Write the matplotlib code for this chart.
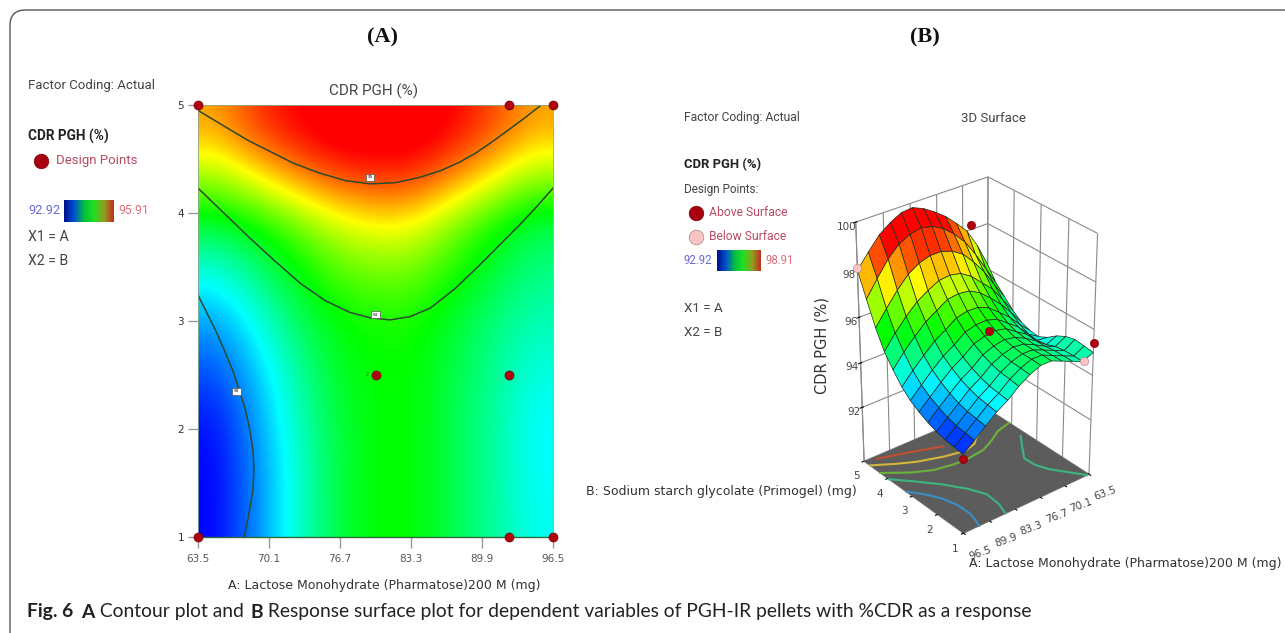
import matplotlib

matplotlib.use("Agg")

import matplotlib.pyplot as plt
import numpy as np
from matplotlib.colors import LinearSegmentedColormap, Normalize
from matplotlib.patches import FancyBboxPatch


W, H = 1285, 633
NARROW = ["Roboto", "Liberation Sans", "DejaVu Sans"]

FIELD_A = [63.5, 67.6, 71.75, 75.9, 80.0, 84.1, 88.25, 92.4, 96.5]
FIELD_B = [1.0, 1.5, 2.0, 2.5, 3.0, 3.5, 4.0, 4.5, 5.0]
FIELD_CDR = [
    [92.92, 93.34, 93.79, 94.21, 94.42, 94.42, 94.18, 93.97, 93.70],
    [92.92, 93.34, 93.79, 94.21, 94.42, 94.42, 94.18, 93.97, 93.67],
    [92.98, 93.40, 93.85, 94.24, 94.42, 94.42, 94.18, 93.97, 93.67],
    [93.16, 93.52, 93.94, 94.30, 94.42, 94.42, 94.21, 94.00, 93.76],
    [93.40, 93.73, 94.12, 94.39, 94.47, 94.47, 94.27, 94.06, 93.88],
    [93.73, 94.03, 94.36, 94.62, 94.74, 94.71, 94.47, 94.24, 94.03],
    [94.24, 94.42, 94.71, 95.01, 95.16, 95.13, 94.77, 94.45, 94.18],
    [94.89, 95.19, 95.49, 95.70, 95.79, 95.76, 95.52, 95.19, 94.86],
    [95.43, 95.76, 95.91, 96.06, 96.06, 96.06, 95.91, 95.70, 95.43],
]
LEVEL_HIGH_A = [63.5, 65.0, 66.5, 68.2, 70.0, 72.4, 74.8, 77.2, 79.5, 81.8, 84.1, 86.0, 87.8, 89.4, 91.0, 92.5, 94.0, 95.4]
LEVEL_HIGH_B = [4.95, 4.86, 4.77, 4.67, 4.58, 4.46, 4.37, 4.30, 4.27, 4.28, 4.33, 4.39, 4.47, 4.56, 4.67, 4.78, 4.89, 5.0]
LEVEL_MID_A = [63.5, 65.9, 68.3, 70.6, 73.0, 75.3, 77.6, 79.5, 81.35, 83.2, 85.1, 87.4, 89.7, 91.6, 93.4, 95.0, 96.5]
LEVEL_MID_B = [4.23, 4.00, 3.77, 3.56, 3.35, 3.19, 3.08, 3.03, 3.01, 3.04, 3.12, 3.30, 3.52, 3.71, 3.89, 4.06, 4.23]
LEVEL_LOW_A = [63.5, 64.3, 65.1, 65.9, 66.7, 67.3, 67.9, 68.3, 68.6, 68.7, 68.6, 68.4, 68.2, 67.8]
LEVEL_LOW_B = [3.24, 3.08, 2.92, 2.74, 2.55, 2.37, 2.18, 2.00, 1.81, 1.62, 1.43, 1.31, 1.20, 1.0]
POINTS_A = [63.5, 92.4, 96.5, 80.0, 92.4, 63.5, 92.4, 96.5]
POINTS_B = [5.0, 5.0, 5.0, 2.5, 2.5, 1.0, 1.0, 1.0]
A_TICKS = [63.5, 70.1, 76.7, 83.3, 89.9, 96.5]
B_TICKS = [1, 2, 3, 4, 5]

# panel B: surface heights, rows run B = 1 to 5, columns run A = 96.5 to 63.5
SURF_A = [96.5, 93.75, 91.0, 88.25, 85.5, 82.75, 80.0, 77.25, 74.5, 71.75, 69.0, 66.25, 63.5]
SURF_B = [1.0, 1.33, 1.67, 2.0, 2.33, 2.67, 3.0, 3.33, 3.67, 4.0, 4.33, 4.67, 5.0]
SURF_CDR = [
    [93.00, 93.40, 93.80, 94.20, 94.50, 94.90, 95.20, 95.40, 95.40, 95.20, 95.00, 94.80, 95.00],
    [93.05, 93.46, 93.86, 94.26, 94.56, 94.96, 95.24, 95.43, 95.42, 95.20, 95.00, 94.80, 95.05],
    [93.10, 93.51, 93.92, 94.32, 94.62, 95.01, 95.27, 95.42, 95.40, 95.20, 95.00, 94.80, 95.10],
    [93.20, 93.62, 94.03, 94.44, 94.74, 95.12, 95.35, 95.48, 95.42, 95.20, 94.95, 94.75, 95.00],
    [93.35, 93.79, 94.21, 94.61, 94.91, 95.29, 95.48, 95.57, 95.48, 95.25, 94.95, 94.60, 94.80],
    [93.55, 94.00, 94.44, 94.85, 95.15, 95.52, 95.67, 95.73, 95.62, 95.30, 95.00, 94.55, 94.50],
    [93.80, 94.28, 94.73, 95.14, 95.44, 95.80, 95.93, 95.95, 95.80, 95.45, 95.10, 94.60, 94.30],
    [94.15, 94.67, 95.13, 95.56, 95.86, 96.19, 96.30, 96.28, 96.08, 95.70, 95.30, 94.80, 94.35],
    [94.65, 95.22, 95.71, 96.15, 96.45, 96.75, 96.82, 96.76, 96.51, 96.10, 95.65, 95.10, 94.50],
    [95.20, 95.82, 96.35, 96.80, 97.10, 97.35, 97.40, 97.30, 97.00, 96.55, 96.10, 95.45, 94.80],
    [96.00, 96.65, 97.25, 97.75, 98.05, 98.20, 98.20, 98.05, 97.75, 97.25, 96.65, 95.90, 95.20],
    [97.00, 97.70, 98.35, 98.80, 99.05, 99.15, 99.05, 98.80, 98.40, 97.90, 97.20, 96.40, 95.60],
    [98.00, 98.60, 99.15, 99.50, 99.75, 99.80, 99.60, 99.30, 98.95, 98.50, 98.00, 97.20, 96.20],
]
Z_TICKS = [92, 94, 96, 98, 100]
Z_FLOOR = 89.5

# floor contours of panel B as (A, B) readings, with their colours
FLOOR_LINES = [
    ([93.9, 87.0, 80.2], [4.89, 4.60, 4.29], "#c2502f"),
    ([96.5, 92.0, 88.2, 82.5, 77.7, 74.5, 72.9, 70.0, 68.2], [4.75, 4.40, 4.15, 3.90, 3.77, 3.88, 4.06, 4.28, 4.48], "#d3b53c"),
    ([96.5, 91.5, 87.3, 82.5, 78.8, 74.5, 71.0, 67.5, 63.5], [4.31, 3.85, 3.58, 3.46, 3.45, 3.52, 3.72, 3.97, 4.10], "#6cb23a"),
    ([96.5, 92.5, 89.2, 86.2, 84.4, 84.7, 85.8], [3.95, 3.42, 2.94, 2.40, 1.92, 1.42, 1.0], "#3db581"),
    ([96.5, 94.0, 92.4, 91.4, 91.3, 91.8, 92.6], [3.26, 2.84, 2.47, 2.02, 1.58, 1.27, 1.0], "#3a90c4"),
    ([65.0, 67.8, 70.0, 69.8, 68.6, 66.2, 64.0], [3.42, 2.95, 2.56, 2.15, 1.79, 1.38, 1.0], "#3db581"),
]
ABOVE_A = [68.0, 80.0, 63.5, 96.5]
ABOVE_B = [5.0, 2.5, 1.0, 1.0]
ABOVE_CDR = [98.2, 96.0, 95.4, 92.8]
BELOW_A = [96.5, 66.0]
BELOW_B = [5.0, 1.0]
BELOW_CDR = [98.1, 94.8]

CMAP = LinearSegmentedColormap.from_list(
    "rsm", ["#0000ff", "#00ffff", "#00ff00", "#ffff00", "#ff0000"]
)
BAR_CMAP = LinearSegmentedColormap.from_list(
    "rsm_bar", ["#00108c", "#0050d0", "#00c040", "#20e020", "#90a020", "#c03020"]
)


def px_rect(left, top, right, bottom):
    """Turn a pixel box (origin top left) into a figure rectangle."""
    return [left / W, 1 - bottom / H, (right - left) / W, (bottom - top) / H]


def put(fig, x, y, text, size=10, family=None, color="#444444", **kwargs):
    """Place text at a pixel position."""
    kwargs.setdefault("va", "center")
    return fig.text(x / W, 1 - y / H, text, fontsize=size, family=family or NARROW,
                    color=color, **kwargs)


def legend_marker(fig, x, y, color, edge="#800000"):
    overlay = fig.add_axes([0, 0, 1, 1], facecolor="none")
    overlay.set_xlim(0, W)
    overlay.set_ylim(H, 0)
    overlay.axis("off")
    overlay.plot([x], [y], "o", ms=10.5, color=color, mec=edge, mew=0.5)


def color_bar(fig, left, top, right, bottom):
    bar = fig.add_axes(px_rect(left, top, right, bottom))
    bar.imshow(np.linspace(0, 1, 128).reshape(1, -1), cmap=BAR_CMAP, aspect="auto")
    bar.axis("off")


def draw_frame(fig):
    frame = FancyBboxPatch(
        (10 / W, -30 / H), 1320 / W, 653 / H,
        boxstyle="round,pad=0,rounding_size=0.012", transform=fig.transFigure,
        fc="none", ec="#555555", lw=1.0,
    )
    frame.set_mutation_aspect(W / H)
    fig.add_artist(frame)


def draw_contour_panel(fig):
    ax = fig.add_axes(px_rect(198, 105, 553, 537))
    ax.imshow(
        np.array(FIELD_CDR), origin="lower", aspect="auto", interpolation="bicubic",
        extent=(FIELD_A[0], FIELD_A[-1], FIELD_B[0], FIELD_B[-1]),
        cmap=CMAP, norm=Normalize(92.92, 95.91),
    )
    for line_a, line_b in [(LEVEL_HIGH_A, LEVEL_HIGH_B), (LEVEL_MID_A, LEVEL_MID_B),
                           (LEVEL_LOW_A, LEVEL_LOW_B)]:
        ax.plot(line_a, line_b, color="#2b4a30", lw=1.1)
    for x, y, label in [(79.5, 4.33, "95"), (80.0, 3.06, "94"), (67.1, 2.35, "93")]:
        ax.text(x, y, label, fontsize=3, ha="center", va="center",
                bbox=dict(fc="white", ec="#555555", lw=0.5, pad=1.2))
    ax.plot(POINTS_A, POINTS_B, "o", ms=6.5, color="#b00010", mec="#700000", mew=0.5,
            clip_on=False, zorder=5)
    ax.text(79.2, 2.5, "2", fontsize=3.5, color="#206020", ha="center", va="center")
    ax.set_xlim(FIELD_A[0], FIELD_A[-1])
    ax.set_ylim(FIELD_B[0], FIELD_B[-1])
    ax.set_xticks(A_TICKS)
    ax.set_yticks(B_TICKS)
    ax.tick_params(axis="x", length=8, width=1, color="#999999", labelsize=7.5,
                   labelcolor="#555555", pad=4)
    ax.tick_params(axis="y", length=7, width=1, color="#999999", labelsize=7.5,
                   labelcolor="#333333", pad=3)
    for side, spine in ax.spines.items():
        spine.set_color("#2f6b3a" if side == "bottom" else "#8aa88a")
        spine.set_linewidth(1.0 if side == "bottom" else 0.6)

    put(fig, 374, 91, "CDR PGH (%)", size=11, ha="center")
    put(fig, 384, 586, "A: Lactose Monohydrate (Pharmatose)200 M (mg)", size=9,
        family="DejaVu Sans", ha="center", color="#333333")
    put(fig, 28, 86, "Factor Coding: Actual", size=9.5)
    put(fig, 28, 136, "CDR PGH (%)", size=9.8, fontweight="bold", color="#222222")
    legend_marker(fig, 41, 161, "#a80010")
    put(fig, 56, 161, "Design Points", size=9.5, color="#b84a62")
    color_bar(fig, 64, 200, 113, 222)
    put(fig, 28, 211, "92.92", size=9.2, color="#6a6ad8")
    put(fig, 118, 211, "95.91", size=8.8, color="#d8707e")
    put(fig, 28, 237, "X1 = A", size=10.2)
    put(fig, 28, 261, "X2 = B", size=10.2)


def draw_surface_panel(fig):
    ax = fig.add_axes(px_rect(740, 138, 1200, 578), projection="3d", computed_zorder=False)
    ax.patch.set_alpha(0)
    ax.view_init(elev=30, azim=141)
    ax.set_proj_type("persp", focal_length=0.8)
    ax.set_box_aspect((1, 1, 1.67), zoom=0.8)

    bb, aa = np.meshgrid(SURF_B, SURF_A, indexing="ij")
    ax.plot_surface(
        np.array([[1.0, 1.0], [5.0, 5.0]]), np.array([[63.5, 96.5], [63.5, 96.5]]),
        np.full((2, 2), Z_FLOOR), color="#5c5c5c", shade=False, zorder=1,
    )
    for line_a, line_b, color in FLOOR_LINES:
        ax.plot(line_b, line_a, zs=Z_FLOOR, color=color, lw=1.5, zorder=2)
    ax.plot_surface(
        bb, aa, np.array(SURF_CDR), cmap=CMAP, norm=Normalize(92.92, 98.91),
        rstride=1, cstride=1, edgecolor="#1c2a1c", linewidth=0.5, shade=False, zorder=3,
    )
    ax.plot(ABOVE_B, ABOVE_A, ABOVE_CDR, "o", ms=6, color="#b00010", mec="#700000",
            mew=0.4, ls="none", zorder=5)
    ax.plot(BELOW_B, BELOW_A, BELOW_CDR, "o", ms=6, color="#f8c4c4", mec="#b08080",
            mew=0.4, ls="none", zorder=5)

    ax.set_xlim(1, 5, view_margin=0)
    ax.set_ylim(63.5, 96.5, view_margin=0)
    ax.set_zlim(Z_FLOOR, 100, view_margin=0)
    ax.set_xticks(B_TICKS)
    ax.set_yticks(A_TICKS)
    ax.set_zticks(Z_TICKS)
    ax.tick_params(labelsize=7.5, labelcolor="#444444", pad=-2)
    ax.tick_params(axis="y", labelrotation=20)
    for label in ax.yaxis.get_ticklabels():
        label.set_ha("left")
    for label in ax.xaxis.get_ticklabels():
        label.set_ha("right")
    ax.zaxis.set_ticks_position("upper")
    for axis in (ax.xaxis, ax.yaxis, ax.zaxis):
        axis.set_pane_color((1, 1, 1, 0))
        axis.pane.set_edgecolor("#8a8a8a")
        axis._axinfo["grid"]["color"] = "#8a8a8a"
        axis._axinfo["grid"]["linewidth"] = 0.8
        axis.line.set_color("#8a8a8a")

    put(fig, 925, 37, "(B)", size=16, family="Liberation Serif", fontweight="bold",
        color="#111111", ha="center")
    put(fig, 993, 118, "3D Surface", size=9.5, ha="center")
    put(fig, 822, 345, "CDR PGH (%)", size=10.5, family="DejaVu Sans", rotation=90,
        ha="center", color="#333333")
    put(fig, 586, 492, "B: Sodium starch glycolate (Primogel) (mg)", size=9,
        family="DejaVu Sans", color="#333333")
    put(fig, 969, 563, "A: Lactose Monohydrate (Pharmatose)200 M (mg)", size=9,
        family="DejaVu Sans", color="#333333")
    put(fig, 684, 117, "Factor Coding: Actual", size=8.7)
    put(fig, 684, 165, "CDR PGH (%)", size=9.4, fontweight="bold", color="#222222")
    put(fig, 684, 190, "Design Points:", size=8.5)
    legend_marker(fig, 696, 213, "#a80010")
    put(fig, 709, 213, "Above Surface", size=8.7, color="#b84a62")
    legend_marker(fig, 696, 237, "#f8c4c4", edge="#b08080")
    put(fig, 709, 237, "Below Surface", size=8.7, color="#b84a62")
    color_bar(fig, 717, 250, 761, 271)
    put(fig, 684, 261, "92.92", size=8.3, color="#6a6ad8")
    put(fig, 766, 261, "98.91", size=8.3, color="#d8707e")
    put(fig, 684, 309, "X1 = A", size=9.6)
    put(fig, 684, 333, "X2 = B", size=9.6)


def draw_caption(fig):
    x = 27
    renderer = fig.canvas.get_renderer()
    runs = [
        ("Fig. 6", "bold", 8), ("A", "bold", 0), (" Contour plot and ", "normal", 0),
        ("B", "bold", 0),
        (" Response surface plot for dependent variables of PGH-IR pellets with %CDR as a response",
         "normal", 0),
    ]
    for text, weight, gap in runs:
        item = put(fig, x, 612, text, size=13.9, family="Lato", fontweight=weight,
                   color="#222222")
        x += item.get_window_extent(renderer).width + gap
        if text.startswith(" "):
            x += 2


def main() -> None:
    fig = plt.figure(figsize=(W / 100, H / 100), dpi=100)
    draw_frame(fig)
    put(fig, 382, 37, "(A)", size=16, family="Liberation Serif", fontweight="bold",
        color="#111111", ha="center")
    draw_contour_panel(fig)
    draw_surface_panel(fig)
    draw_caption(fig)
    fig.savefig("out.png", dpi=100)
    plt.close(fig)


if __name__ == "__main__":
    main()
